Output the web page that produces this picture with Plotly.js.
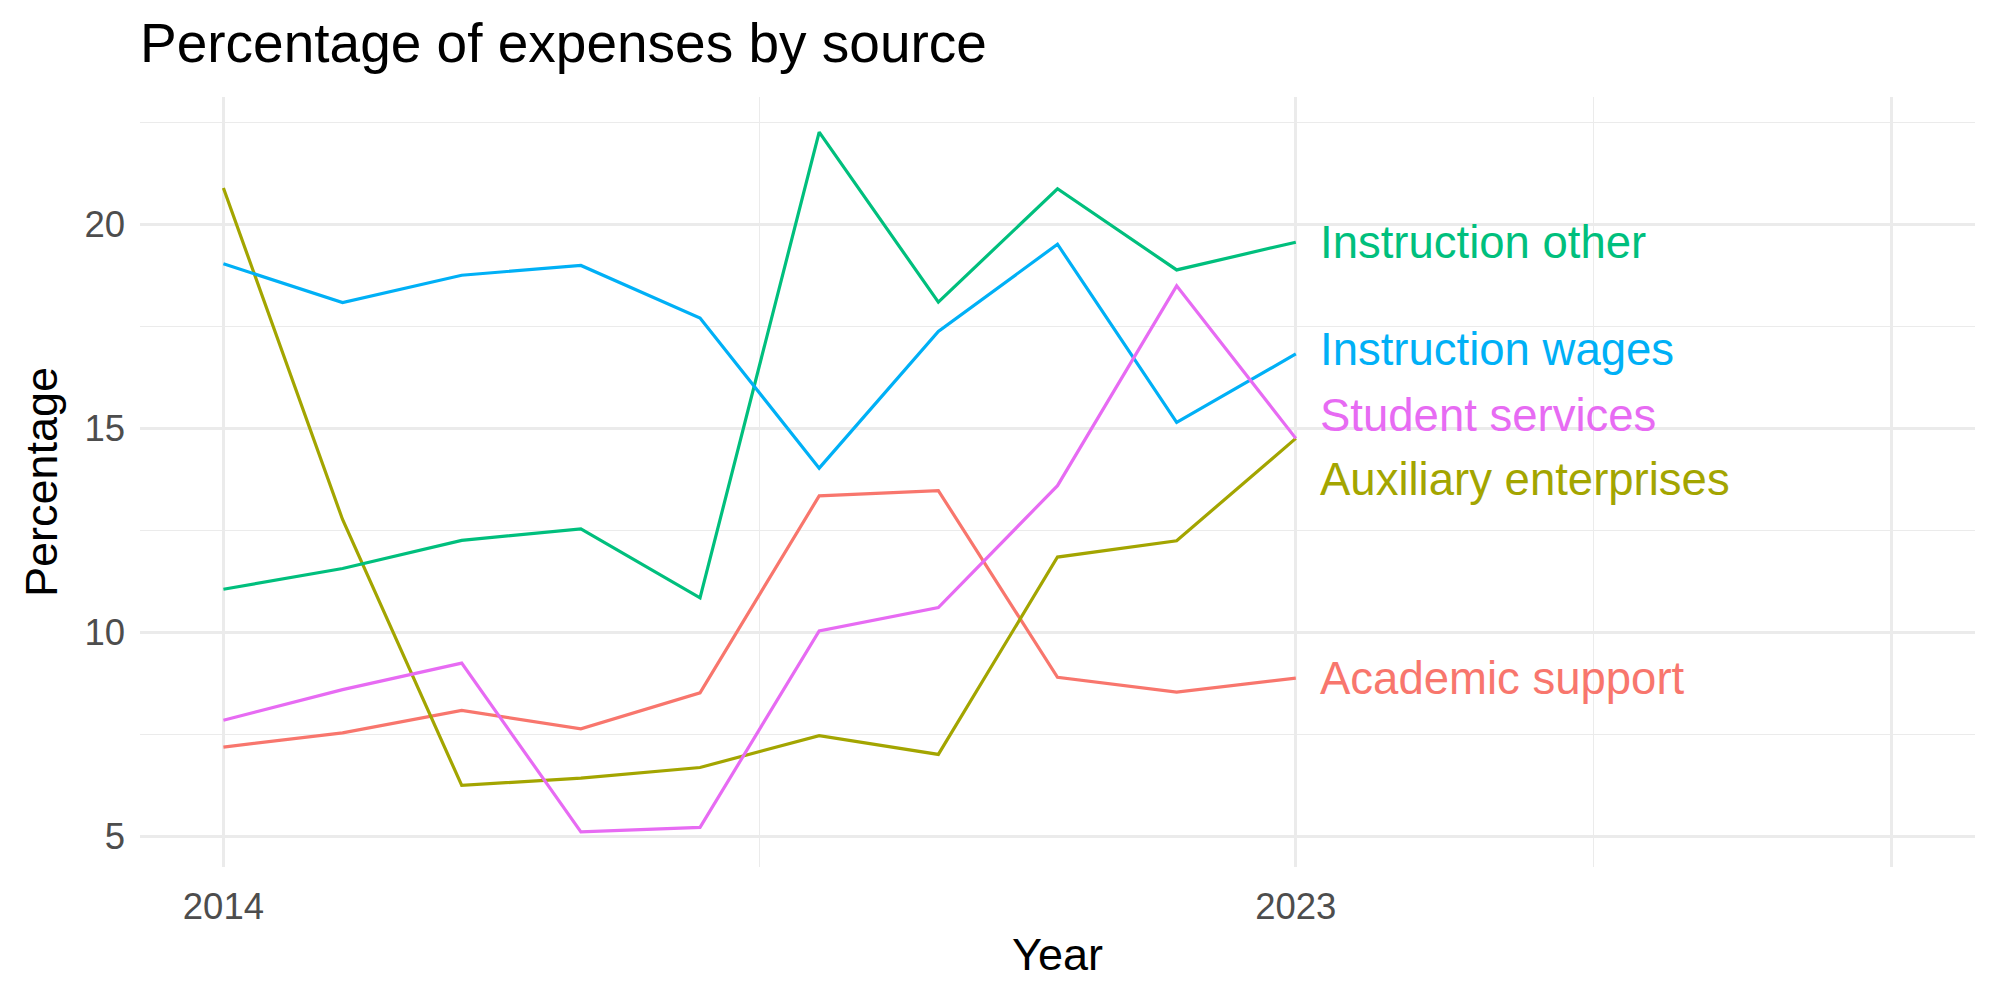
<!DOCTYPE html>
<html>
<head>
<meta charset="utf-8">
<script src="https://cdn.plot.ly/plotly-3.0.1.min.js"></script>
<style>html,body{margin:0;padding:0;background:#fff;}#chart{width:2000px;height:1000px;}</style>
</head>
<body>
<div id="chart"></div>
<script>
// ---- data ----
const years = [2014, 2015, 2016, 2017, 2018, 2019, 2020, 2021, 2022, 2023];
const seriesNames = ["Academic support", "Auxiliary enterprises", "Instruction other", "Instruction wages", "Student services"];
const academicSupport   = [7.19, 7.54, 8.09, 7.64, 8.52, 13.35, 13.48, 8.90, 8.54, 8.88];
const auxiliaryEnterprises = [20.90, 12.77, 6.25, 6.43, 6.69, 7.47, 7.01, 11.85, 12.25, 14.76];
const instructionOther  = [11.06, 11.57, 12.26, 12.54, 10.85, 22.27, 18.10, 20.88, 18.89, 19.57];
const instructionWages  = [19.04, 18.09, 18.76, 19.00, 17.71, 14.03, 17.38, 19.52, 15.15, 16.83];
const studentServices   = [7.85, 8.60, 9.25, 5.11, 5.22, 10.04, 10.61, 13.60, 18.50, 14.76];
const xTickVals = [2014, 2023, 2028];
const xTickText = ["2014", "2023", ""];
const yTickVals = [5, 10, 15, 20];

// ---- styling ----
const seriesValues = [academicSupport, auxiliaryEnterprises, instructionOther, instructionWages, studentServices];
const colors = ["#F8766D", "#A3A500", "#00BF7D", "#00B0F6", "#E76BF3"];
// label offsets (repel) relative to each series' last value
const labelNudgeY = [-0.02, -1.0, -0.01, 0.11, 0.55];
const labelNudgeX = 0.2;
const FONT = "Liberation Sans, Arial, Helvetica, sans-serif";

const traces = seriesNames.map((name, i) => ({
  type: "scatter",
  mode: "lines",
  name: name,
  x: years,
  y: seriesValues[i],
  line: {color: colors[i], width: 3.2},
  showlegend: false,
  hoverinfo: "skip"
}));

const annotations = seriesNames.map((name, i) => {
  const vals = seriesValues[i];
  return {
    x: years[years.length - 1] + labelNudgeX,
    y: vals[vals.length - 1] + labelNudgeY[i],
    xref: "x", yref: "y",
    text: name,
    showarrow: false,
    xanchor: "left", yanchor: "middle",
    font: {family: FONT, size: 45.5, color: colors[i]},
    borderpad: 0, borderwidth: 0
  };
});

const grid = "#EBEBEB";
const layout = {
  width: 2000, height: 1000,
  paper_bgcolor: "#fff", plot_bgcolor: "#fff",
  margin: {l: 140, r: 25, t: 97, b: 133},
  title: {
    text: "Percentage of expenses by source",
    font: {family: FONT, size: 55, color: "#000"},
    x: 0, xref: "paper", xanchor: "left",
    y: 0.957, yref: "container", yanchor: "middle"
  },
  xaxis: {
    range: [2013.3, 2028.7],
    tickmode: "array", tickvals: xTickVals, ticktext: xTickText,
    showgrid: true, gridcolor: grid, gridwidth: 2.8,
    zeroline: false, showline: false, ticks: "",
    ticklabelstandoff: 14,
    tickfont: {family: FONT, size: 36.5, color: "#4D4D4D"},
    minor: {tickvals: [2018.5, 2025.5], showgrid: true, gridcolor: grid, gridwidth: 1.4, ticks: ""},
    title: {text: "Year", font: {family: FONT, size: 45, color: "#000"}, standoff: 12}
  },
  yaxis: {
    range: [4.25, 23.13],
    tickmode: "array", tickvals: yTickVals,
    showgrid: true, gridcolor: grid, gridwidth: 2.8,
    zeroline: false, showline: false, ticks: "",
    ticklabelstandoff: 14,
    tickfont: {family: FONT, size: 36.5, color: "#4D4D4D"},
    minor: {tickvals: [7.5, 12.5, 17.5, 22.5], showgrid: true, gridcolor: grid, gridwidth: 1.4, ticks: ""},
    title: {text: "Percentage", font: {family: FONT, size: 45, color: "#000"}, standoff: 12}
  },
  annotations: annotations
};

Plotly.newPlot("chart", traces, layout, {displayModeBar: false, staticPlot: true});
</script>
</body>
</html>
